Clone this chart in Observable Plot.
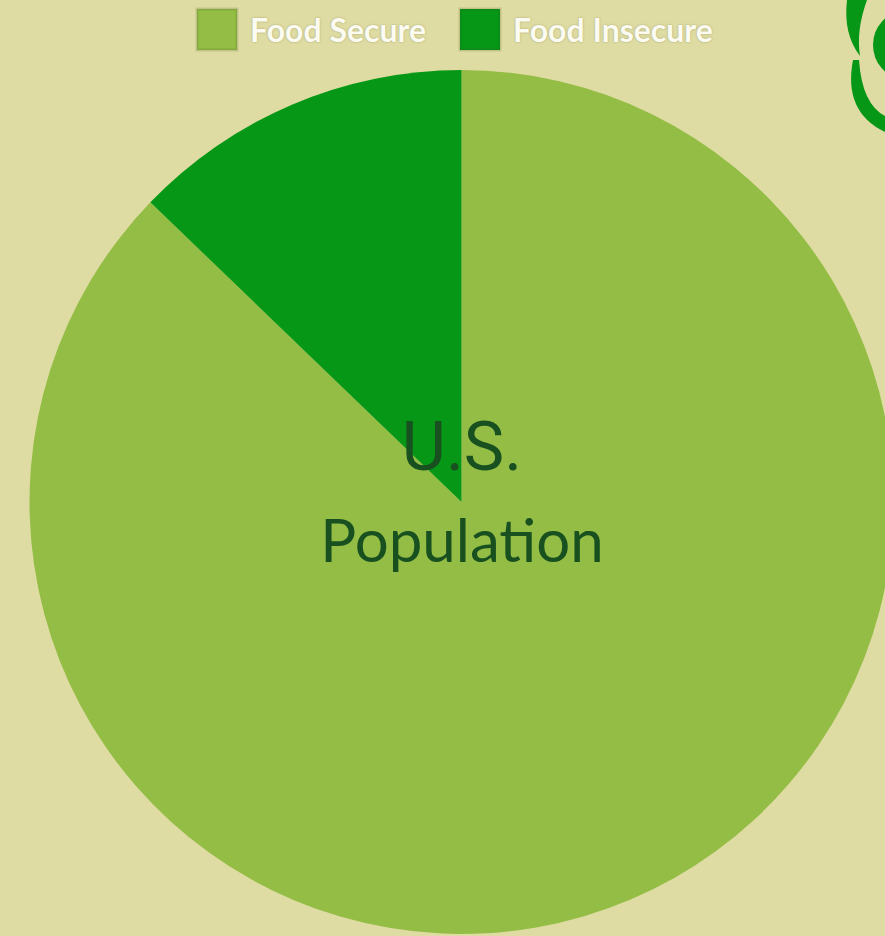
<!DOCTYPE html>
<html><head><meta charset="utf-8">
<script src="https://cdn.jsdelivr.net/npm/d3@7"></script>
<script src="https://cdn.jsdelivr.net/npm/@observablehq/plot@0.6"></script>
<style>
html,body{margin:0;padding:0;background:#dfdca3;width:885px;height:936px;overflow:hidden;}
#chart{position:relative;width:885px;height:936px;}
#legend{height:58px;box-sizing:border-box;padding:9px 0 0 197px;}
#legend .lg-swatches{margin:0;min-height:0;font-family:Lato,sans-serif;font-size:32px;font-weight:700;color:#fbfbf2;text-shadow:0 0 2px rgba(110,110,60,0.55);}
#legend .lg-swatch{margin-right:34px;}
#legend .lg-swatch > svg{margin-right:13px;}
#legend .lg-swatch rect{stroke:rgba(60,80,20,0.18);stroke-width:3px;}
#logo{position:absolute;left:0;top:0;pointer-events:none;}
</style>
</head><body>
<div id="chart">
  <div id="legend"></div>
  <div id="plot"></div>
  <svg id="logo" width="885" height="936" viewBox="0 0 885 936">
    <path d="M847,0 Q843,34 860,56 Q856,30 867,0 Z" fill="#069716"/>
    <path d="M853,60 Q843,112 885,132 L885,116 Q862,104 859,60 Z" fill="#069716"/>
    <ellipse cx="903" cy="45" rx="30" ry="33" fill="#069716"/>
  </svg>
</div>
<script>
// Data
const categories = ["Food Secure", "Food Insecure"];
const shares = [87.2, 12.8];
const colors = ["#94bd45", "#069716"];
const centerTop = ["U.S."];
const centerBottom = ["Population"];

const colorOpts = {type: "ordinal", domain: categories, range: colors};
const color = Plot.scale({color: colorOpts});

// Legend
document.getElementById("legend").appendChild(
  Plot.legend({color: colorOpts, swatchWidth: 40, swatchHeight: 41, className: "lg"})
);

// Pie as a render mark using Plot's x/y scales
const pieMark = (index, scales) => {
  const cx = scales.x(0), cy = scales.y(0);
  const r = Math.abs(scales.x(1) - scales.x(0));
  const arcs = d3.pie().sort(null).value(d => d)(shares);
  const g = d3.create("svg:g");
  g.selectAll("path").data(arcs).join("path")
    .attr("transform", `translate(${cx},${cy})`)
    .attr("d", d3.arc().innerRadius(0).outerRadius(r))
    .attr("fill", (d, i) => color.apply(categories[i]));
  return g.node();
};

const chart = Plot.plot({
  width: 885,
  height: 878,
  margin: 0,
  x: {domain: [-1, 1], range: [29.5, 893.5], axis: null},
  y: {domain: [-1, 1], range: [876, 12], axis: null},
  style: {background: "transparent", overflow: "hidden"},
  marks: [
    pieMark,
    Plot.text(centerTop, {x: () => 0, y: () => 0, text: d => d, dy: -54, fontSize: 68,
      fontFamily: "Roboto, 'Liberation Sans'", fill: "#185020"}),
    Plot.text(centerBottom, {x: () => 0, y: () => 0, text: d => d, dy: 40, fontSize: 60,
      fontFamily: "Lato", fill: "#185020"})
  ]
});
document.getElementById("plot").appendChild(chart);
</script>
</body></html>
